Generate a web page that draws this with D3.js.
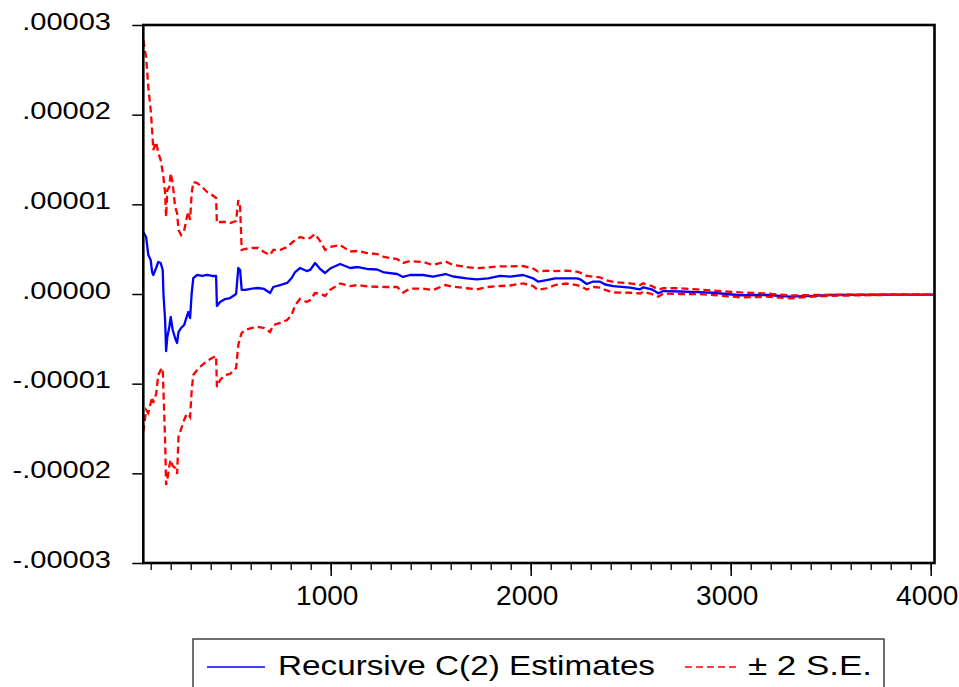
<!DOCTYPE html>
<html>
<head>
<meta charset="utf-8">
<script src="https://cdn.jsdelivr.net/npm/d3@7"></script>
<style>
  html, body { margin: 0; padding: 0; background: #fff; }
  svg { display: block; font-family: "Liberation Sans", Arial, sans-serif; }
</style>
</head>
<body>
<svg id="chart" width="959" height="687"></svg>
<script>
// Observation number (x axis)
const obs = [63, 77, 88, 100, 107, 113, 127, 138, 150, 160, 164, 172, 177, 183, 193, 200, 210, 222, 232, 239,
  252, 267, 280, 288, 297, 305, 313, 332, 357, 382, 407, 427, 431, 447, 472, 497, 527, 538, 547, 555,
  572, 607, 637, 667, 697, 713, 747, 782, 805, 822, 847, 880, 897, 922, 947, 972, 997, 1047, 1097, 1137,
  1182, 1232, 1267, 1332, 1362, 1397, 1462, 1512, 1574, 1612, 1680, 1730, 1787, 1847, 1897, 1962, 2012, 2037, 2080, 2122,
  2180, 2230, 2247, 2280, 2313, 2347, 2372, 2413, 2497, 2547, 2563, 2605, 2638, 2663, 2747, 2832, 2912, 3047, 3182, 3297,
  3412, 3497, 3747, 4019];

// Values in millionths (x 1e-6)
const estimate = [6.91, 6.36, 4.35, 3.79, 2.45, 2.12, 2.90, 3.57, 3.46, 2.68, -0.11, -2.90, -6.36, -4.80, -3.68, -2.56, -4.01, -4.91, -5.46, -4.24,
  -3.79, -3.46, -2.56, -2.01, -2.68, 0.11, 1.78, 2.12, 2.01, 2.12, 2.01, 2.01, -1.34, -0.89, -0.56, -0.45, 0.00, 2.90, 2.68, 0.45,
  0.45, 0.61, 0.67, 0.56, 0.11, 0.78, 1.00, 1.23, 1.78, 2.45, 2.90, 2.56, 2.68, 3.46, 2.79, 2.34, 2.84, 3.35, 2.90, 3.01,
  2.79, 2.73, 2.40, 2.23, 1.90, 2.12, 2.12, 1.95, 2.23, 1.95, 1.75, 1.64, 1.75, 2.01, 1.93, 2.12, 1.75, 1.37, 1.56, 1.75,
  1.75, 1.75, 1.64, 1.12, 1.39, 1.37, 1.06, 0.89, 0.70, 0.52, 0.75, 0.52, 0.08, 0.33, 0.28, 0.22, 0.14, -0.14, -0.11, -0.30,
  -0.22, -0.11, -0.08, -0.06];

const upper = [28.33, 26.43, 23.08, 20.52, 18.29, 16.06, 16.95, 15.72, 14.94, 13.61, 12.94, 11.26, 8.59, 11.60, 11.93, 13.49, 12.38, 9.70, 9.03, 7.14,
  6.58, 7.03, 8.48, 9.14, 8.25, 11.26, 12.49, 12.38, 11.93, 11.38, 11.04, 10.71, 7.92, 8.03, 8.03, 7.92, 8.14, 10.48, 9.70, 4.91,
  5.02, 5.13, 5.13, 4.68, 4.35, 4.91, 4.91, 5.24, 5.69, 6.02, 6.36, 6.13, 6.25, 6.69, 5.91, 4.91, 5.24, 5.46, 4.74, 4.80,
  4.57, 4.46, 4.13, 3.90, 3.46, 3.68, 3.57, 3.23, 3.62, 3.23, 3.01, 2.87, 2.96, 3.09, 3.07, 3.12, 2.84, 2.49, 2.60, 2.56,
  2.60, 2.49, 2.38, 2.01, 1.93, 1.86, 1.56, 1.34, 1.19, 1.00, 1.19, 0.89, 0.52, 0.64, 0.64, 0.52, 0.37, 0.17, 0.06, -0.17,
  -0.11, -0.09, -0.06, -0.03];

const lower = [-15.39, -12.94, -13.27, -12.16, -11.49, -12.16, -11.15, -9.03, -8.48, -8.25, -10.93, -16.28, -21.30, -20.74, -19.18, -18.51, -19.18, -19.40, -20.07, -15.95,
  -15.06, -14.05, -13.38, -13.38, -13.72, -10.71, -9.03, -8.48, -7.92, -7.47, -7.14, -6.91, -10.37, -9.59, -9.03, -8.92, -8.25, -5.69, -4.91, -4.35,
  -4.01, -3.79, -3.68, -3.79, -4.24, -3.46, -3.23, -2.90, -2.34, -1.23, -0.56, -0.89, -0.67, 0.11, 0.06, -0.22, 0.45, 1.17, 0.89, 1.00,
  0.84, 0.81, 0.78, 0.78, 0.17, 0.61, 0.61, 0.45, 1.00, 0.81, 0.64, 0.52, 0.78, 0.89, 0.95, 1.19, 0.89, 0.45, 0.64, 1.00,
  1.17, 1.00, 0.89, 0.50, 0.78, 0.72, 0.45, 0.17, 0.14, 0.06, 0.26, 0.00, -0.30, 0.06, 0.00, 0.00, -0.11, -0.37, -0.30, -0.48,
  -0.30, -0.20, -0.11, -0.09];

const yTickValues = [30, 20, 10, 0, -10, -20, -30];
const yTickLabels = [".00003", ".00002", ".00001", ".00000", "-.00001", "-.00002", "-.00003"];
const xMajorTicks = [1000, 2000, 3000, 4000];
const xMajorLabels = ["1000", "2000", "3000", "4000"];
const xMinorTicks = d3.range(100, 4001, 100);
const legendLabels = ["Recursive C(2) Estimates", "\u00B1 2 S.E."];

const svg = d3.select("#chart");
const L = 143.3, R = 934.5, T = 25, B = 563;

const x = d3.scaleLinear().domain([63, 4019]).range([L, R]);
const y = d3.scaleLinear().domain([-30, 30]).range([B, T]);

svg.append("defs").append("clipPath").attr("id", "clip")
  .append("rect").attr("x", L).attr("y", T).attr("width", R - L).attr("height", B - T);

const line = d3.line().x(d => x(d[0])).y(d => y(d[1]));
const plot = svg.append("g").attr("clip-path", "url(#clip)");

plot.append("path").datum(obs.map((o, i) => [o, estimate[i]]))
  .attr("d", line).attr("fill", "none").attr("stroke", "#0000FF").attr("stroke-width", 2.3).attr("stroke-linejoin", "round");
[upper, lower].forEach(s => {
  plot.append("path").datum(obs.map((o, i) => [o, s[i]]))
    .attr("d", line).attr("fill", "none").attr("stroke", "#FF0000").attr("stroke-width", 2.3)
    .attr("stroke-dasharray", "7,4");
});

// Y axis ticks (outside, left)
const yAxis = d3.axisLeft(y).tickValues(yTickValues).tickSize(11).tickFormat("");
const gy = svg.append("g").attr("transform", `translate(${L},0)`).call(yAxis);
gy.select(".domain").remove();
gy.selectAll(".tick line").attr("stroke", "#000").attr("stroke-width", 1.5);

yTickValues.forEach((v, i) => {
  svg.append("g").attr("transform", `translate(111,${y(v) + 4.5}) scale(1.21,1)`)
    .append("text").attr("text-anchor", "end").attr("font-size", 24).attr("fill", "#000")
    .text(yTickLabels[i]);
});

// X axis ticks (outside, bottom)
const gxMinor = svg.append("g").attr("transform", `translate(0,${B})`)
  .call(d3.axisBottom(x).tickValues(xMinorTicks).tickSize(7).tickFormat(""));
gxMinor.select(".domain").remove();
gxMinor.selectAll(".tick line").attr("stroke", "#000").attr("stroke-width", 1.3);

const gxMajor = svg.append("g").attr("transform", `translate(0,${B})`)
  .call(d3.axisBottom(x).tickValues(xMajorTicks).tickSize(13).tickPadding(0)
    .tickFormat((d, i) => xMajorLabels[i]));
gxMajor.select(".domain").remove();
gxMajor.selectAll(".tick line").attr("stroke", "#000").attr("stroke-width", 1.5);
gxMajor.selectAll(".tick text").attr("font-size", 28).attr("fill", "#000")
  .attr("font-family", "'Liberation Sans', Arial, sans-serif")
  .attr("dy", null).attr("y", 42).attr("dx", -4);

// Frame
svg.append("rect").attr("x", L).attr("y", T).attr("width", R - L).attr("height", B - T)
  .attr("fill", "none").attr("stroke", "#000").attr("stroke-width", 2.6);

// Legend
const lg = svg.append("g");
lg.append("rect").attr("x", 193).attr("y", 639).attr("width", 691).attr("height", 80)
  .attr("fill", "none").attr("stroke", "#404040").attr("stroke-width", 1.5);
lg.append("line").attr("x1", 207).attr("x2", 265).attr("y1", 667).attr("y2", 667)
  .attr("stroke", "#0000FF").attr("stroke-width", 1.5);
lg.append("text").attr("x", 278).attr("y", 675).attr("font-size", 28).attr("fill", "#000")
  .attr("textLength", 377).attr("lengthAdjust", "spacingAndGlyphs").text(legendLabels[0]);
lg.append("line").attr("x1", 685).attr("x2", 738).attr("y1", 667).attr("y2", 667)
  .attr("stroke", "#FF0000").attr("stroke-width", 1.5).attr("stroke-dasharray", "7,4");
lg.append("text").attr("x", 748).attr("y", 675).attr("font-size", 28).attr("fill", "#000")
  .attr("textLength", 124).attr("lengthAdjust", "spacingAndGlyphs").text(legendLabels[1]);
</script>
</body>
</html>
